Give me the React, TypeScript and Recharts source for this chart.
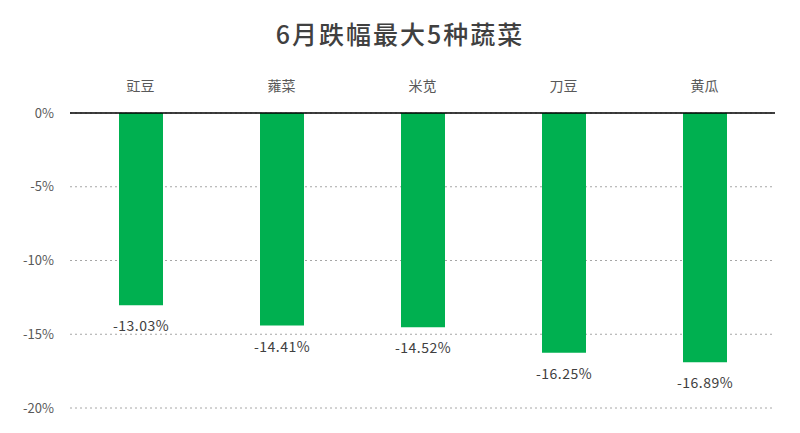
import { BarChart, Bar, XAxis, YAxis, CartesianGrid, LabelList } from "recharts";

const categories = ["豇豆", "蕹菜", "米苋", "刀豆", "黄瓜"];
const changes = [-13.03, -14.41, -14.52, -16.25, -16.89];
const yTicks = [0, -5, -10, -15, -20];

const FONT = '"Noto Sans CJK SC", "DejaVu Sans", sans-serif';

// label under the end of a negative bar
const BelowLabel = (props: any) => {
  const { x, y, width, height, value } = props;
  const bottom = Math.max(Number(y), Number(y) + Number(height));
  return (
    <text
      x={Number(x) + Number(width) / 2}
      y={bottom + 26}
      textAnchor="middle"
      fontSize={14}
      fill="#404040"
      fontFamily={FONT}
      letterSpacing={0.5}
    >
      {`${Number(value).toFixed(2)}%`}
    </text>
  );
};

export default function App() {
  const rows = categories.map((name, i) => ({ name, value: changes[i] }));

  return (
    <div style={{ position: "absolute", left: 0, top: 0, width: 800, height: 433, background: "#fff", fontFamily: FONT }}>
      <div
        style={{
          position: "absolute",
          top: 15,
          left: 0,
          width: 800,
          textAlign: "center",
          fontSize: 25,
          color: "#404040",
          letterSpacing: 2,
          fontWeight: 500,
        }}
      >
        6月跌幅最大5种蔬菜
      </div>
      <BarChart width={800} height={433} data={rows} margin={{ top: 83, right: 25, bottom: 25, left: 0 }}>
        <CartesianGrid vertical={false} stroke="#A6A6A6" strokeDasharray="2 3" />
        <XAxis
          dataKey="name"
          orientation="top"
          height={30}
          axisLine={{ stroke: "#000", strokeWidth: 1.5 }}
          tickLine={false}
          tick={{ fontSize: 14, fill: "#595959", fontFamily: FONT }}
          tickMargin={16}
        />
        <YAxis
          domain={[-20, 0]}
          ticks={yTicks}
          width={70}
          axisLine={false}
          tickLine={false}
          tick={{ fontSize: 13, fill: "#595959", fontFamily: FONT }}
          tickFormatter={(v: number) => `${v}%`}
          tickMargin={10}
        />
        <Bar dataKey="value" fill="#00B050" barSize={44} isAnimationActive={false}>
          <LabelList dataKey="value" content={BelowLabel} />
        </Bar>
      </BarChart>
    </div>
  );
}
